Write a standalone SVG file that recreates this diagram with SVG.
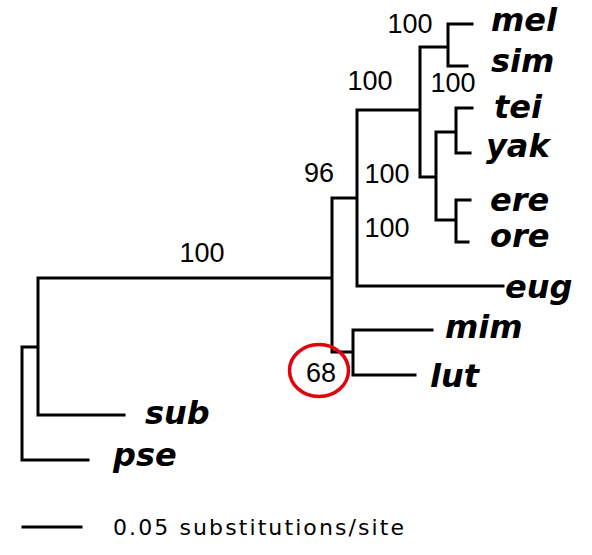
<svg xmlns="http://www.w3.org/2000/svg" width="592" height="555" viewBox="0 0 592 555">
<style>
.br{fill:none;stroke:#000;stroke-width:3;stroke-linecap:square;stroke-linejoin:miter}
.tx{font-family:"DejaVu Sans",sans-serif;font-style:italic;font-weight:bold;font-size:32px;fill:#000}
.bs{font-family:"Liberation Sans",Arial,sans-serif;font-size:27px;fill:#000;text-anchor:middle}
.sc{font-family:"DejaVu Sans",sans-serif;font-size:22px;fill:#000;letter-spacing:2.1px}
</style>
<rect width="592" height="555" fill="#fff"/>
<g id="connectors">
<path class="br" d="M22,347 V460 H88 M22,347 H38 M38,278 V415 H124 M38,278 H332 M332,198 V352 M332,198 H357 M332,352 H353 M353,330 V375 M353,330 H432 M353,375 H415 M357,110 V286 H503 M357,110 H420 M420,47 V177 M420,47 H448 M448,24 V66 M448,24 H472 M448,66 H467 M420,177 H436 M436,132 V220 M436,132 H456 M456,108 V153 M456,108 H472 M456,153 H470 M436,220 H456 M456,200 V242 M456,200 H470 M456,242 H468"/>
</g>
<g id="taxa">
<g id="mel"><text class="tx" x="491" y="31">mel</text></g>
<g id="sim"><text class="tx" x="491" y="72">sim</text></g>
<g id="tei"><text class="tx" x="494" y="118">tei</text></g>
<g id="yak"><text class="tx" x="486" y="157">yak</text></g>
<g id="ere"><text class="tx" x="490" y="211">ere</text></g>
<g id="ore"><text class="tx" x="490" y="247">ore</text></g>
<g id="eug"><text class="tx" x="505" y="298">eug</text></g>
<g id="mim"><text class="tx" x="445" y="338">mim</text></g>
<g id="lut"><text class="tx" x="430" y="387">lut</text></g>
<g id="sub"><text class="tx" x="145" y="424">sub</text></g>
<g id="pse"><text class="tx" x="113" y="466">pse</text></g>
</g>
<g id="support">
<g id="bs-melsim"><text class="bs" x="410" y="33">100</text></g>
<g id="bs-a"><text class="bs" x="370" y="90">100</text></g>
<g id="bs-b"><text class="bs" x="453" y="92">100</text></g>
<g id="bs-96"><text class="bs" x="319" y="182">96</text></g>
<g id="bs-c"><text class="bs" x="387" y="183">100</text></g>
<g id="bs-d"><text class="bs" x="387" y="237">100</text></g>
<g id="bs-main"><text class="bs" x="202" y="262">100</text></g>
<g id="bs-68"><ellipse cx="319" cy="370.5" rx="29.5" ry="26" fill="none" stroke="#e3000f" stroke-width="3.5"/><text class="bs" x="321" y="382">68</text></g>
</g>
<g id="scale">
<line class="br" x1="23" y1="527" x2="81" y2="527"/>
<text class="sc" x="113" y="535">0.05 substitutions/site</text>
</g>
</svg>
